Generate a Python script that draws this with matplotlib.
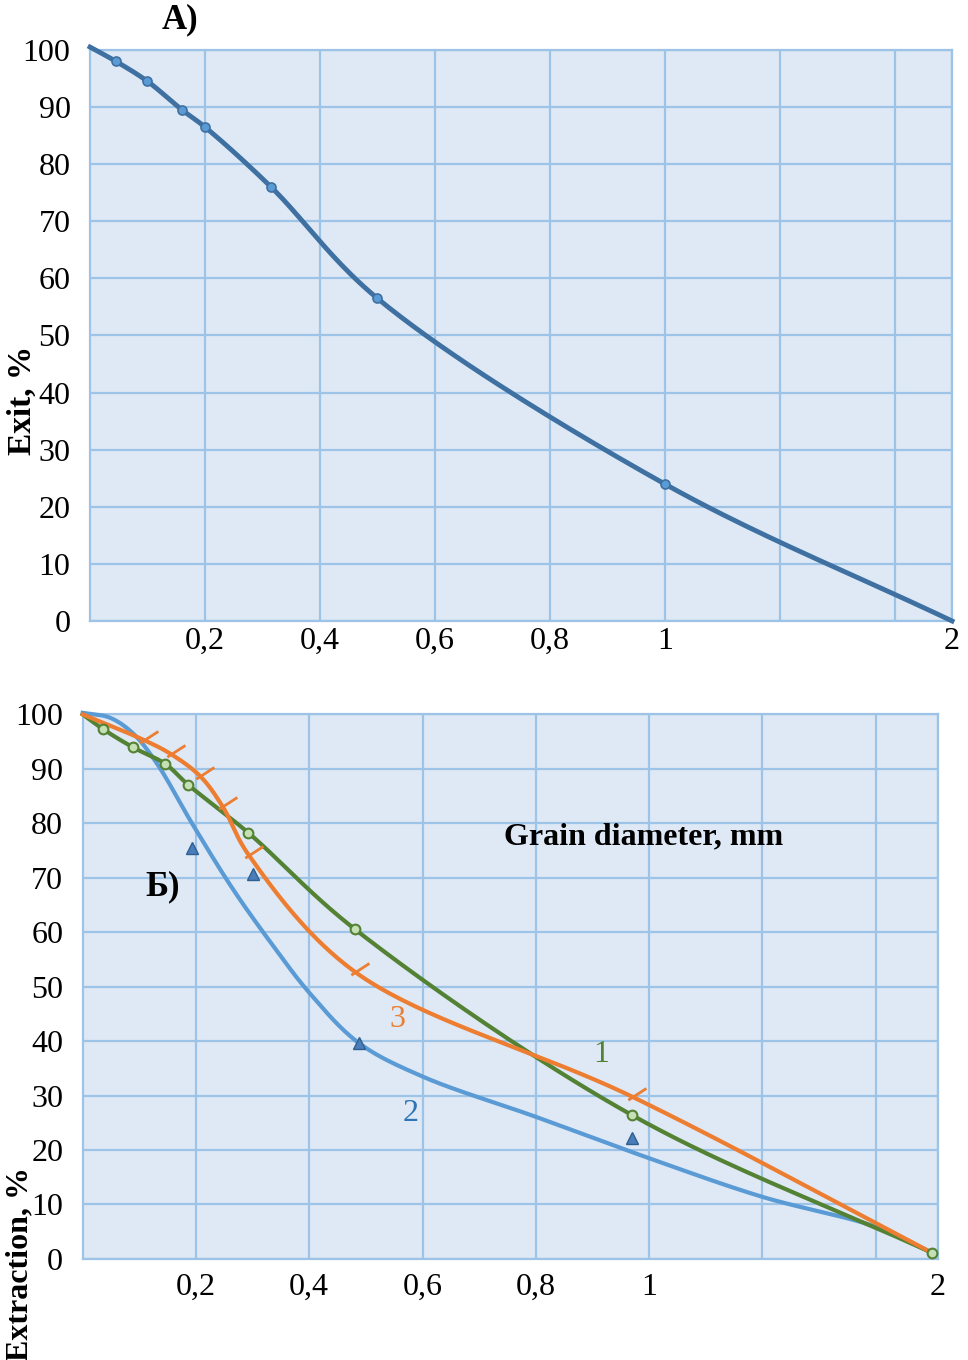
import numpy as np
import matplotlib
matplotlib.use("Agg")
import matplotlib.pyplot as plt
from matplotlib.path import Path

plt.rcParams['font.family'] = ['Liberation Serif', 'DejaVu Serif']

# ---- data (grain diameter, mm / percent) ----
top_x = [0, 0.045, 0.1, 0.16, 0.2, 0.315, 0.5, 1.0, 2.0]
top_y = [100.5, 98, 94.5, 89.5, 86.5, 76, 56.5, 24, 0]

green_x = [0, 0.036, 0.088, 0.146, 0.186, 0.292, 0.48, 0.97, 2.0]
green_y = [100, 97.3, 94.0, 90.9, 87.1, 78.3, 60.6, 26.4, 1.1]

orange_x = [0, 0.108, 0.156, 0.208, 0.247, 0.293, 0.481, 0.97, 2.0]
orange_y = [100, 95.3, 92.7, 88.6, 83.1, 74.2, 52.7, 29.8, 1.1]

blue_tri_x = [0.193, 0.3, 0.487, 0.97]
blue_tri_y = [75.4, 70.7, 39.7, 22.3]

blue_x = [0, 0.048, 0.089, 0.131, 0.193, 0.266, 0.337, 0.4, 0.487,
          0.6, 0.8, 1.0, 1.4, 1.8, 2.0]
blue_y = [100.3, 99.4, 96.5, 91.0, 80.0, 67.8, 57.4, 48.9, 39.7,
          33.5, 26.1, 18.5, 11.4, 5.9, 1.1]

tick_x = [0.2, 0.4, 0.6, 0.8, 1.0, 2.0]
tick_lab = ['0,2', '0,4', '0,6', '0,8', '1', '2']
grid_extra = [1.4, 1.8]
yticks = list(range(0, 101, 10))

# axis: 0..1 mm stretched over 5 grid cells, 1..2 mm over 2.5 cells
MM = [0, 1, 2, 3]
POS = [0, 5, 7.5, 10]


def fwd(x):
    return np.interp(x, MM, POS)


def inv(u):
    return np.interp(u, POS, MM)


def smooth(x, y, n=40):
    # centripetal catmull-rom written as bezier segments, in roughly pixel space
    sx, sy = 114.0, 5.6
    P = np.column_stack([fwd(np.asarray(x, float)) * sx, np.asarray(y, float) * sy])
    dt = np.hypot(*np.diff(P, axis=0).T) ** 0.5
    k = len(P)
    m = np.zeros_like(P)
    m[0] = (P[1] - P[0]) / dt[0]
    m[-1] = (P[-1] - P[-2]) / dt[-1]
    for i in range(1, k - 1):
        m[i] = ((P[i] - P[i - 1]) / dt[i - 1]
                - (P[i + 1] - P[i - 1]) / (dt[i - 1] + dt[i])
                + (P[i + 1] - P[i]) / dt[i])
    t = np.linspace(0, 1, n)[:, None]
    segs = []
    for i in range(k - 1):
        p1, p2 = P[i], P[i + 1]
        c1 = p1 + m[i] * dt[i] / 3
        c2 = p2 - m[i + 1] * dt[i] / 3
        segs.append((1 - t) ** 3 * p1 + 3 * (1 - t) ** 2 * t * c1
                    + 3 * (1 - t) * t ** 2 * c2 + t ** 3 * p2)
    S = np.vstack(segs)
    return inv(S[:, 0] / sx), S[:, 1] / sy


BG = '#DEE9F5'
GRID = '#9DC3E6'
FS = 23


def style(ax, xmax, xpad):
    ax.set_xscale('function', functions=(fwd, inv))
    ax.set_xlim(0, xmax)
    ax.set_ylim(0, 100)
    ax.set_facecolor(BG)
    ticks = tick_x[:-1] + [xmax]
    ax.set_xticks(ticks)
    ax.set_xticklabels(tick_lab)
    ax.set_xticks(grid_extra, minor=True)
    ax.set_yticks(yticks)
    ax.grid(True, which='both', color=GRID, lw=1.6)
    ax.set_axisbelow(True)
    for s in ax.spines.values():
        s.set_color(GRID)
        s.set_linewidth(1.6)
    ax.tick_params(which='both', length=0, labelsize=FS)
    ax.tick_params(axis='y', pad=14)
    ax.tick_params(axis='x', pad=xpad)


fig = plt.figure(figsize=(9.68, 13.6), dpi=100)

# ---- A) ----
ax1 = fig.add_axes([0.0930, 0.5434, 0.8905, 0.4199])
style(ax1, 2.0, 4)
sx, sy = smooth(top_x, top_y)
ax1.plot(sx, sy, color='#3E70A2', lw=3.5, clip_on=False, zorder=3)
ax1.plot(top_x[1:-1], top_y[1:-1], ls='none', marker='o', ms=6.5,
         mfc='#5B9BD5', mec='#3E70A2', mew=1.2, zorder=4)
fig.text(180 / 968, 1 - 20 / 1360, 'A)', ha='center', va='center',
         fontsize=25, fontweight='bold')
fig.text(22 / 968, 1 - 400 / 1360, 'Exit, %', rotation=90, ha='center',
         va='center', fontsize=24, fontweight='bold')

# ---- Б) ----
ax2 = fig.add_axes([0.0854, 0.0743, 0.8836, 0.4004])
style(ax2, 2.02, 10)

bx, by = smooth(blue_x, blue_y)
ax2.plot(bx, by, color='#5B9BD5', lw=3, clip_on=False, zorder=3)
ax2.plot(blue_tri_x, blue_tri_y, ls='none', marker='^', ms=8,
         mfc='#4A7EBB', mec='#2F5F8F', mew=1, zorder=6)

gx, gy = smooth(green_x, green_y)
ax2.plot(gx, gy, color='#548235', lw=3, clip_on=False, zorder=4)

ox, oy = smooth(orange_x, orange_y)
ax2.plot(ox, oy, color='#ED7D31', lw=3, clip_on=False, zorder=5)
# short stroke going up-right from the point
a = np.deg2rad(33)
dash = Path([(-0.3 * np.cos(a), -0.3 * np.sin(a)), (np.cos(a), np.sin(a))],
            [Path.MOVETO, Path.LINETO])
ax2.plot(orange_x[1:-1], orange_y[1:-1], ls='none', marker=dash, ms=20,
         mec='#ED7D31', mew=2, zorder=5)

ax2.plot(green_x[1:], green_y[1:], ls='none', marker='o', ms=7,
         mfc='#C5E0B4', mec='#548235', mew=1.5, zorder=6, clip_on=False)

ax2.text(0.556, 43.9, '3', color='#ED7D31', fontsize=FS, ha='center', va='center')
ax2.text(0.915, 37.5, '1', color='#548235', fontsize=FS, ha='center', va='center')
ax2.text(0.579, 26.8, '2', color='#2E75B6', fontsize=FS, ha='center', va='center')
ax2.text(0.991, 77.5, 'Grain diameter, mm', fontsize=23,
         fontweight='bold', ha='center', va='center')
ax2.text(0.142, 68.3, 'Б)', fontsize=25, fontweight='bold',
         ha='center', va='center')
fig.text(20 / 968, 1 - 1264 / 1360, 'Extraction, %', rotation=90,
         ha='center', va='center', fontsize=23, fontweight='bold')

fig.savefig('out.png', dpi=100, facecolor='white')
